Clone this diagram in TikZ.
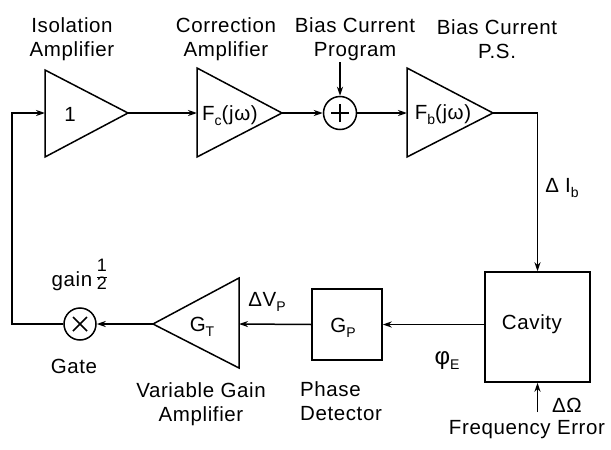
\documentclass[tikz,border=0pt]{standalone}
\usepackage{fontspec}
\setmainfont{Liberation Sans}[LetterSpace=3]
\usetikzlibrary{arrows.meta}
\newcommand\lowsub[1]{\raisebox{-5pt}{\fontsize{14}{14}\selectfont #1}}
\begin{document}
\begin{tikzpicture}[x=1pt,y=-1pt,line width=1.5pt,
  >={Stealth[length=9pt,width=6pt]},
  lbl/.style={font=\fontsize{20.5}{24}\selectfont,inner sep=0pt,align=center},
  blk/.style={draw,rectangle,inner sep=0pt},
  junc/.style={draw,circle,minimum size=33pt,inner sep=0pt}]
\useasboundingbox (0,0) rectangle (611,450);
% amplifiers (triangles)
\draw (45,70) -- (128,113) -- (45,157) -- cycle;
\coordinate (isoIn) at (45,113); \coordinate (isoOut) at (128,113);
\draw (197,68) -- (282,113) -- (197,157) -- cycle;
\coordinate (corIn) at (197,113); \coordinate (corOut) at (282,113);
\draw (407,68) -- (493,113) -- (407,157) -- cycle;
\coordinate (psIn) at (407,113); \coordinate (psOut) at (493,113);
\draw (239,278) -- (153,324) -- (239,368) -- cycle;
\coordinate (vgIn) at (239,324); \coordinate (vgOut) at (153,324);
% junctions
\node[junc] (sum) at (340,113) {};
\draw ([xshift=-9pt]sum.center) -- ([xshift=9pt]sum.center)
      ([yshift=-9pt]sum.center) -- ([yshift=9pt]sum.center);
\node[junc,minimum size=32pt] (gate) at (80,324) {};
\draw ([shift={(-7pt,-7pt)}]gate.center) -- ([shift={(7pt,7pt)}]gate.center)
      ([shift={(-7pt,7pt)}]gate.center) -- ([shift={(7pt,-7pt)}]gate.center);
% blocks
\node[blk,minimum width=105pt,minimum height=110pt] (cav) at (537.5,327) {};
\node[blk,minimum width=70pt,minimum height=71pt] (gp) at (347,324.5) {};
\coordinate (prog) at (340,62);
\coordinate (dOm) at (537.5,412);
\coordinate (fbx) at (12,324);
\coordinate (fby) at (12,113);
% connectors
\draw[->] (isoOut) -- (corIn);
\draw[->] (corOut) -- (sum.west);
\draw[->] (sum.east) -- (psIn);
\draw[->] (prog) -- (sum.north);
\draw[->] (psOut) -| (cav.north);
\draw[->] (cav.west |- gp.east) -- (gp.east);
\draw[->] (gp.west) -- (vgIn);
\draw[->] (vgOut) -- (gate.east);
\draw[->] (gate.west) -- (fbx) -- (fby) -- (isoIn);
\draw[->] (dOm) -- (cav.south);
% labels
\node[lbl] (l1) at (72,39) {Isolation\\Amplifier};
\node[lbl] (l2) at (226,39) {Correction\\Amplifier};
\node[lbl] (l3) at (355,39) {Bias Current\\Program};
\node[lbl] (l4) at (497,39) {Bias Current\\P.S.};
\node[lbl] (t1) at (70,114) {1};
\node[lbl] (t2) at (230,116) {F\lowsub{c}(jω)};
\node[lbl] (t3) at (443,115) {F\lowsub{b}(jω)};
\node[lbl] (t4) at (562,188) {Δ I\lowsub{b}};
\node[lbl] (t5) at (532,324) {Cavity};
\node[lbl] (t6) at (343,328) {G\lowsub{P}};
\node[lbl] (t7) at (202,327) {G\lowsub{T}};
\node[lbl] (t8) at (267,302) {ΔV\lowsub{P}};
\node[lbl,anchor=base east] (t9) at (93,286) {gain};
\node[lbl,font=\fontsize{18}{18}\selectfont,anchor=west] (t9f) at (t9.east) [xshift=3pt,yshift=4pt]
  {\begin{tabular}{@{}c@{}}1\\\hline 2\end{tabular}};
\node[lbl] (t10) at (74,366) {Gate};
\node[lbl] (t11) at (201,404) {Variable Gain\\Amplifier};
\node[lbl] (t12) at (447,361) {{\fontsize{24}{24}\selectfont φ}\lowsub{E}};
\node[lbl,align=left] (t13) at (341,401) {Phase\\Detector};
\node[lbl] (t14) at (567,405) {ΔΩ};
\node[lbl] (t15) at (527,430) {Frequency Error};
\end{tikzpicture}
\end{document}
